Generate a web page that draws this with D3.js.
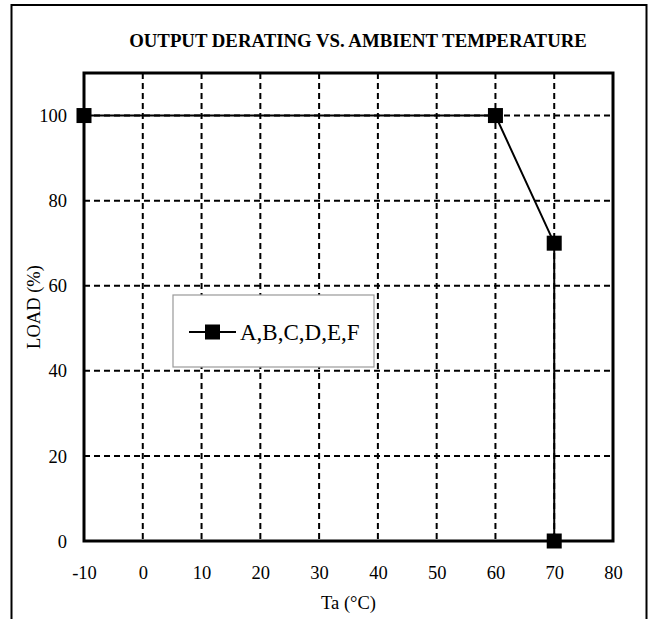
<!DOCTYPE html>
<html><head><meta charset="utf-8">
<script src="https://cdn.jsdelivr.net/npm/d3@7"></script>
<style>body{margin:0;background:#fff}svg{display:block}text{font-family:"Liberation Serif","Times New Roman",serif;fill:#000}</style>
</head><body><svg id="c" width="653" height="619"></svg>
<script>
const temps = [-10, 60, 70, 70];
const loads = [100, 100, 70, 0];
const xTicks = [-10, 0, 10, 20, 30, 40, 50, 60, 70, 80];
const yTicks = [0, 20, 40, 60, 80, 100];
const seriesName = "A,B,C,D,E,F";
const title = "OUTPUT DERATING VS. AMBIENT TEMPERATURE";
const xLabel = "Ta (\u00B0C)";
const yLabel = "LOAD (%)";

const FF = '"Liberation Serif","Times New Roman",serif';
const svg = d3.select("#c");
const L = 84, R = 613, T = 73, B = 541;
const x = d3.scaleLinear().domain([-10, 80]).range([L, R]);
const y = d3.scaleLinear().domain([0, 110]).range([B, T]);

// outer frame (open at bottom)
svg.append("path").attr("d", `M11.5,625V5H646.5V625`).attr("fill", "none").attr("stroke", "#000").attr("stroke-width", 2);

svg.append("text").attr("x", 358).attr("y", 47).attr("text-anchor", "middle")
  .attr("font-family", FF).attr("font-weight", "bold").attr("font-size", 18.8).text(title);

// grid
const g = svg.append("g");
g.selectAll(".vg").data(xTicks.filter(d => d > -10 && d < 80)).join("line")
  .attr("x1", d => x(d)).attr("x2", d => x(d)).attr("y1", T).attr("y2", B)
  .attr("stroke", "#000").attr("stroke-width", 2).attr("stroke-dasharray", "6,4");
g.selectAll(".hg").data(yTicks.filter(d => d > 0)).join("line")
  .attr("y1", d => y(d)).attr("y2", d => y(d)).attr("x1", L).attr("x2", R)
  .attr("stroke", "#000").attr("stroke-width", 2).attr("stroke-dasharray", "6,4");

// plot frame
svg.append("rect").attr("x", L).attr("y", T).attr("width", R - L).attr("height", B - T)
  .attr("fill", "none").attr("stroke", "#000").attr("stroke-width", 3);

// axes
const xAxis = d3.axisBottom(x).tickValues(xTicks).tickSize(0).tickPadding(0).tickFormat(d => String(d));
const xa = svg.append("g").attr("transform", `translate(0,${B})`).call(xAxis);
xa.attr("font-family", FF);
xa.select(".domain").remove();
xa.selectAll("text").attr("dy", null).attr("y", 38).attr("font-size", 18.5)
  .attr("font-family", FF).attr("fill", "#000");

const yAxis = d3.axisLeft(y).tickValues(yTicks).tickSize(0).tickPadding(0).tickFormat(d => String(d));
const ya = svg.append("g").attr("transform", `translate(${L},0)`).call(yAxis);
ya.attr("font-family", FF);
ya.select(".domain").remove();
ya.selectAll("text").attr("x", -17).attr("dy", "0.33em").attr("font-size", 18.5)
  .attr("font-family", FF).attr("fill", "#000");

svg.append("text").attr("x", (L + R) / 2).attr("y", 609).attr("text-anchor", "middle")
  .attr("font-family", FF).attr("font-size", 18.5).text(xLabel);
svg.append("text").attr("transform", `translate(40,${(T + B) / 2}) rotate(-90)`)
  .attr("text-anchor", "middle").attr("font-family", FF).attr("font-size", 18.5).text(yLabel);

// series
const pts = temps.map((t, i) => [t, loads[i]]);
svg.append("path").datum(pts)
  .attr("d", d3.line().x(d => x(d[0])).y(d => y(d[1])))
  .attr("fill", "none").attr("stroke", "#000").attr("stroke-width", 2);
const s = 15;
svg.selectAll(".mk").data(pts).join("rect")
  .attr("x", d => x(d[0]) - s / 2).attr("y", d => y(d[1]) - s / 2)
  .attr("width", s).attr("height", s).attr("fill", "#000");

// legend
const lg = svg.append("g");
lg.append("rect").attr("x", 173).attr("y", 295).attr("width", 201).attr("height", 72)
  .attr("fill", "#fff").attr("stroke", "#999").attr("stroke-width", 1.2);
lg.append("line").attr("x1", 189).attr("x2", 236).attr("y1", 332).attr("y2", 332)
  .attr("stroke", "#000").attr("stroke-width", 2);
lg.append("rect").attr("x", 212.5 - s / 2).attr("y", 332 - s / 2).attr("width", s).attr("height", s).attr("fill", "#000");
lg.append("text").attr("x", 240).attr("y", 340).attr("font-family", FF).attr("font-size", 23).text(seriesName);
</script></body></html>
